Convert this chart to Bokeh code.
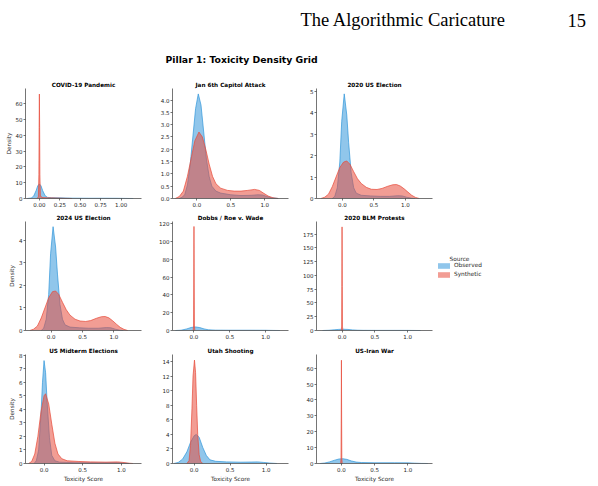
from bokeh.plotting import figure
from bokeh.layouts import column, row
from bokeh.models import (Range1d, FixedTicker, PrintfTickFormatter, Label,
                          Legend, LegendItem, ColumnDataSource)
from bokeh.embed import file_html
from bokeh.resources import INLINE

# ---------------- data ----------------
panel_titles = ["COVID-19 Pandemic", "Jan 6th Capitol Attack", "2020 US Election",
                "2024 US Election", "Dobbs / Roe v. Wade", "2020 BLM Protests",
                "US Midterm Elections", "Utah Shooting", "US-Iran War"]
series_names = ["Observed", "Synthetic"]

covid_obs_x = [-0.15, -0.1, -0.07, -0.04, -0.02, 0.0, 0.02, 0.04, 0.07, 0.1, 0.15, 0.25, 0.4, 0.6, 0.8, 0.95, 1.05, 1.15]
covid_obs_y = [0, 0.3, 1.5, 5.0, 8.0, 9.2, 8.0, 5.0, 1.8, 0.7, 0.5, 0.4, 0.2, 0.15, 0.15, 0.12, 0.05, 0]
covid_syn_x = [-0.03, -0.012, -0.006, -0.003, 0.0, 0.003, 0.006, 0.012, 0.03, 0.1, 0.2, 0.3, 0.4]
covid_syn_y = [0, 1, 15, 45, 66, 45, 15, 2, 0.6, 0.4, 0.3, 0.1, 0]

jan6_obs_x = [-0.26, -0.22, -0.18, -0.14, -0.10, -0.06, -0.02, 0.02, 0.06, 0.10, 0.14, 0.18, 0.22, 0.28, 0.35, 0.5, 0.65, 0.8, 0.9, 0.97, 1.03, 1.1, 1.2]
jan6_obs_y = [0, 0.05, 0.15, 0.55, 1.35, 2.5, 3.65, 4.25, 3.8, 2.7, 1.6, 0.9, 0.5, 0.3, 0.22, 0.15, 0.12, 0.13, 0.15, 0.14, 0.08, 0.03, 0]
jan6_syn_x = [-0.32, -0.26, -0.2, -0.14, -0.08, -0.03, 0.03, 0.08, 0.13, 0.18, 0.23, 0.28, 0.35, 0.45, 0.55, 0.65, 0.75, 0.85, 0.92, 0.98, 1.05, 1.12, 1.2]
jan6_syn_y = [0, 0.08, 0.3, 0.9, 1.7, 2.35, 2.7, 2.5, 2.0, 1.4, 0.9, 0.6, 0.42, 0.33, 0.3, 0.3, 0.33, 0.37, 0.33, 0.22, 0.1, 0.03, 0]

us2020_obs_x = [-0.16, -0.12, -0.08, -0.04, -0.01, 0.03, 0.07, 0.1, 0.14, 0.18, 0.22, 0.3, 0.45, 0.6, 0.75, 0.88, 0.95, 1.02, 1.1, 1.15]
us2020_obs_y = [0, 0.1, 0.5, 1.7, 3.6, 4.88, 3.9, 2.6, 1.2, 0.5, 0.25, 0.15, 0.12, 0.1, 0.1, 0.13, 0.12, 0.06, 0.01, 0]
us2020_syn_x = [-0.34, -0.28, -0.22, -0.16, -0.1, -0.04, 0.02, 0.07, 0.12, 0.18, 0.24, 0.3, 0.38, 0.46, 0.55, 0.63, 0.72, 0.8, 0.86, 0.92, 0.98, 1.04, 1.1, 1.16, 1.22]
us2020_syn_y = [0, 0.06, 0.2, 0.55, 1.0, 1.45, 1.7, 1.75, 1.6, 1.25, 0.92, 0.7, 0.52, 0.43, 0.42, 0.47, 0.57, 0.64, 0.65, 0.58, 0.45, 0.3, 0.15, 0.05, 0]

us2024_obs_x = [-0.16, -0.12, -0.08, -0.04, -0.01, 0.03, 0.07, 0.1, 0.14, 0.18, 0.22, 0.3, 0.45, 0.6, 0.75, 0.88, 0.95, 1.02, 1.1, 1.15]
us2024_obs_y = [0, 0.1, 0.5, 1.6, 3.4, 4.6, 3.7, 2.5, 1.15, 0.5, 0.25, 0.15, 0.12, 0.1, 0.1, 0.13, 0.12, 0.06, 0.01, 0]
us2024_syn_x = [-0.34, -0.28, -0.22, -0.16, -0.1, -0.04, 0.02, 0.07, 0.12, 0.18, 0.24, 0.3, 0.38, 0.46, 0.55, 0.63, 0.72, 0.8, 0.86, 0.92, 0.98, 1.04, 1.1, 1.16, 1.22]
us2024_syn_y = [0, 0.06, 0.2, 0.55, 1.0, 1.45, 1.72, 1.75, 1.6, 1.25, 0.92, 0.68, 0.5, 0.42, 0.4, 0.44, 0.54, 0.61, 0.62, 0.56, 0.43, 0.28, 0.14, 0.05, 0]

dobbs_obs_x = [-0.26, -0.18, -0.1, -0.04, 0.02, 0.08, 0.14, 0.2, 0.3, 0.5, 0.8, 1.0, 1.1, 1.2]
dobbs_obs_y = [0, 0.3, 1.8, 3.4, 4.0, 3.3, 1.8, 0.8, 0.4, 0.3, 0.3, 0.25, 0.1, 0]
dobbs_syn_x = [-0.012, -0.006, -0.003, 0.0, 0.003, 0.006, 0.012]
dobbs_syn_y = [0, 5, 50, 117, 50, 5, 0]

blm_obs_x = [-0.3, -0.2, -0.12, -0.05, 0.02, 0.09, 0.16, 0.24, 0.32, 0.5, 0.8, 1.0, 1.1, 1.2]
blm_obs_y = [0, 0.4, 1.2, 2.0, 2.3, 1.9, 1.1, 0.5, 0.3, 0.2, 0.2, 0.18, 0.08, 0]
blm_syn_x = [-0.012, -0.006, -0.003, 0.0, 0.003, 0.006, 0.012]
blm_syn_y = [0, 8, 80, 188, 80, 8, 0]

midterm_obs_x = [-0.13, -0.1, -0.07, -0.04, -0.02, 0.0, 0.02, 0.04, 0.07, 0.1, 0.14, 0.2, 0.4, 0.7, 0.95, 1.05, 1.1]
midterm_obs_y = [0, 0.2, 1.0, 3.6, 6.0, 7.6, 6.7, 4.5, 1.9, 0.6, 0.2, 0.1, 0.06, 0.05, 0.06, 0.02, 0]
midterm_syn_x = [-0.2, -0.16, -0.12, -0.08, -0.04, 0.0, 0.02, 0.06, 0.1, 0.14, 0.18, 0.23, 0.3, 0.45, 0.6, 0.8, 0.95, 1.02, 1.1, 1.15]
midterm_syn_y = [0, 0.15, 0.7, 2.0, 3.8, 5.0, 5.15, 4.4, 2.9, 1.5, 0.7, 0.35, 0.2, 0.15, 0.12, 0.1, 0.12, 0.08, 0.02, 0]

utah_obs_x = [-0.28, -0.22, -0.16, -0.1, -0.05, 0.0, 0.03, 0.07, 0.12, 0.17, 0.22, 0.3, 0.45, 0.65, 0.8, 0.88, 0.96, 1.05, 1.15]
utah_obs_y = [0, 0.15, 0.6, 1.6, 2.9, 3.8, 4.0, 3.6, 2.2, 1.1, 0.5, 0.3, 0.22, 0.18, 0.2, 0.22, 0.15, 0.06, 0]
utah_syn_x = [-0.1, -0.07, -0.05, -0.03, -0.015, 0.005, 0.02, 0.035, 0.05, 0.07, 0.09, 0.12]
utah_syn_y = [0, 0.4, 2.5, 7.5, 12.0, 14.2, 12.5, 8.0, 4.0, 1.2, 0.3, 0]

iran_obs_x = [-0.32, -0.25, -0.18, -0.1, -0.04, 0.02, 0.08, 0.15, 0.22, 0.3, 0.5, 0.8, 1.0, 1.1, 1.2, 1.3]
iran_obs_y = [0, 0.3, 1.0, 2.1, 2.8, 3.0, 2.6, 1.6, 0.9, 0.6, 0.45, 0.45, 0.4, 0.2, 0.05, 0]
iran_syn_x = [-0.012, -0.006, -0.003, 0.0, 0.003, 0.006, 0.012]
iran_syn_y = [0, 3, 28, 65, 28, 3, 0]

# axis ticks per panel
x_ticks_fine = [0.0, 0.25, 0.5, 0.75, 1.0]
x_ticks = [0.0, 0.5, 1.0]
y_ticks = [
    [0, 10, 20, 30, 40, 50, 60],
    [0.0, 0.5, 1.0, 1.5, 2.0, 2.5, 3.0, 3.5, 4.0],
    [0, 1, 2, 3, 4, 5],
    [0, 1, 2, 3, 4],
    [0, 20, 40, 60, 80, 100, 120],
    [0, 25, 50, 75, 100, 125, 150, 175],
    [0, 1, 2, 3, 4, 5, 6, 7, 8],
    [0, 2, 4, 6, 8, 10, 12, 14],
    [0, 10, 20, 30, 40, 50, 60],
]

# ---------------- layout / style ----------------
x_limits = [(-0.17, 1.25), (-0.36, 1.35), (-0.41, 1.43),
            (-0.41, 1.44), (-0.30, 1.32), (-0.39, 1.38),
            (-0.24, 1.26), (-0.30, 1.31), (-0.375, 1.37)]
y_limits = [69.5, 4.47, 5.13, 4.83, 122.6, 197.8, 8.05, 14.97, 68.6]

OBS_COLOR = "#3498db"
SYN_COLOR = "#e74c3c"
TEXT_COLOR = "#262626"
AX_COLOR = "#3a3a3a"
FONT = "DejaVu Sans"

curves = [
    (covid_obs_x, covid_obs_y, covid_syn_x, covid_syn_y),
    (jan6_obs_x, jan6_obs_y, jan6_syn_x, jan6_syn_y),
    (us2020_obs_x, us2020_obs_y, us2020_syn_x, us2020_syn_y),
    (us2024_obs_x, us2024_obs_y, us2024_syn_x, us2024_syn_y),
    (dobbs_obs_x, dobbs_obs_y, dobbs_syn_x, dobbs_syn_y),
    (blm_obs_x, blm_obs_y, blm_syn_x, blm_syn_y),
    (midterm_obs_x, midterm_obs_y, midterm_syn_x, midterm_syn_y),
    (utah_obs_x, utah_obs_y, utah_syn_x, utah_syn_y),
    (iran_obs_x, iran_obs_y, iran_syn_x, iran_syn_y),
]

col_borders = [(25, 14), (17, 12), (16, 2)]          # left, right
row_borders = [(15, 110, 10), (12, 109, 10), (13, 109, 17)]  # top, frame h, bottom
HEADER_H = 73


def make_panel(i):
    r, c = divmod(i, 3)
    bl, br = col_borders[c]
    bt, fh, bb = row_borders[r]
    ox, oy, sx, sy = curves[i]
    p = figure(title=panel_titles[i], frame_width=116, frame_height=fh,
               x_range=Range1d(*x_limits[i]), y_range=Range1d(0, y_limits[i]),
               output_backend="svg", toolbar_location=None,
               min_border_left=bl, min_border_right=br,
               min_border_top=bt, min_border_bottom=bb)
    p.title.align = "center"
    p.title.text_font = FONT
    p.title.text_font_size = "5.7px"
    p.title.text_font_style = "bold"
    p.title.text_color = "#000000"
    p.title.standoff = 2

    osrc = ColumnDataSource(dict(x=ox, y=oy))
    ssrc = ColumnDataSource(dict(x=sx, y=sy))
    p.varea(x="x", y1=0, y2="y", source=osrc, fill_color=OBS_COLOR, fill_alpha=0.55)
    p.line(x="x", y="y", source=osrc, line_color=OBS_COLOR, line_width=0.8, line_alpha=0.9)
    p.varea(x="x", y1=0, y2="y", source=ssrc, fill_color=SYN_COLOR, fill_alpha=0.55)
    p.line(x="x", y="y", source=ssrc, line_color=SYN_COLOR, line_width=0.8, line_alpha=0.9)

    p.xaxis.ticker = FixedTicker(ticks=x_ticks_fine if i == 0 else x_ticks)
    p.xaxis.formatter = PrintfTickFormatter(format="%.2f" if i == 0 else "%.1f")
    p.yaxis.ticker = FixedTicker(ticks=y_ticks[i])
    p.yaxis.formatter = PrintfTickFormatter(format="%.1f" if i == 1 else "%d")

    for ax in p.axis:
        ax.axis_line_color = AX_COLOR
        ax.axis_line_width = 0.7
        ax.major_tick_line_color = AX_COLOR
        ax.major_tick_line_width = 0.7
        ax.major_tick_out = 2
        ax.major_tick_in = 0
        ax.minor_tick_line_color = None
        ax.major_label_text_font = FONT
        ax.major_label_text_font_size = "5.5px"
        ax.major_label_text_color = TEXT_COLOR
        ax.major_label_standoff = 1
        ax.axis_label_text_font = FONT
        ax.axis_label_text_font_size = "5.7px"
        ax.axis_label_text_font_style = "normal"
        ax.axis_label_text_color = TEXT_COLOR
        ax.axis_label_standoff = 1
    if c == 0:
        p.yaxis.axis_label = "Density"
    if r == 2:
        p.xaxis.axis_label = "Toxicity Score"
    p.grid.visible = False
    p.outline_line_color = None
    return p


panels = [make_panel(i) for i in range(9)]

# header (page running head + chart title)
hf = figure(width=592, height=HEADER_H, output_backend="svg", toolbar_location=None,
            x_axis_location=None, y_axis_location=None, min_border=0,
            x_range=Range1d(0, 1), y_range=Range1d(0, 1))
hf.outline_line_color = None
hf.grid.visible = False
hf.add_layout(Label(x=300, y=HEADER_H - 19.5, x_units="screen", y_units="screen",
                    text="The Algorithmic Caricature", text_font="Liberation Serif",
                    text_font_size="18.5px", text_color="#000000", text_baseline="alphabetic"))
hf.add_layout(Label(x=567, y=HEADER_H - 19.5, x_units="screen", y_units="screen",
                    text="15", text_font="Liberation Serif",
                    text_font_size="18.5px", text_color="#000000", text_baseline="alphabetic"))
hf.add_layout(Label(x=165, y=HEADER_H - 59, x_units="screen", y_units="screen",
                    text="Pillar 1: Toxicity Density Grid", text_font=FONT,
                    text_font_size="9.3px", text_font_style="bold", text_color="#000000",
                    text_baseline="alphabetic"))

# legend panel (right of the grid); the legend swatches come from hidden
# renderers that carry the BLM panel's data
grid_h = sum(t + f + b for t, f, b in row_borders)
lf = figure(frame_width=150, frame_height=grid_h, output_backend="svg", toolbar_location=None,
            x_axis_location=None, y_axis_location=None, min_border=0,
            x_range=Range1d(0, 1), y_range=Range1d(0, 1))
lf.outline_line_color = None
lf.grid.visible = False
leg_obs = lf.varea(x="x", y1=0, y2="y", source=ColumnDataSource(dict(x=blm_obs_x, y=blm_obs_y)),
                   fill_color=OBS_COLOR, fill_alpha=0.55, visible=False)
leg_syn = lf.varea(x="x", y1=0, y2="y", source=ColumnDataSource(dict(x=blm_syn_x, y=blm_syn_y)),
                   fill_color=SYN_COLOR, fill_alpha=0.55, visible=False)
leg = Legend(items=[LegendItem(label=series_names[0], renderers=[leg_obs]),
                    LegendItem(label=series_names[1], renderers=[leg_syn])],
             location=(2, 200.5), orientation="vertical",
             border_line_color=None, background_fill_alpha=0,
             inactive_fill_alpha=0.0,
             padding=0, margin=0, spacing=2,
             glyph_width=15, glyph_height=7, label_height=7, label_width=20,
             label_standoff=3, label_text_font=FONT, label_text_font_size="5.8px",
             label_text_color=TEXT_COLOR)
lf.add_layout(leg)
lf.add_layout(Label(x=15, y=220, x_units="screen", y_units="screen", text="Source",
                    text_font=FONT, text_font_size="5.8px", text_color=TEXT_COLOR,
                    text_baseline="middle"))

layout = column(hf, row(column(panels[0], panels[3], panels[6]),
                        column(panels[1], panels[4], panels[7]),
                        column(panels[2], panels[5], panels[8]),
                        lf))

open("out.html", "w").write(file_html(layout, INLINE))
